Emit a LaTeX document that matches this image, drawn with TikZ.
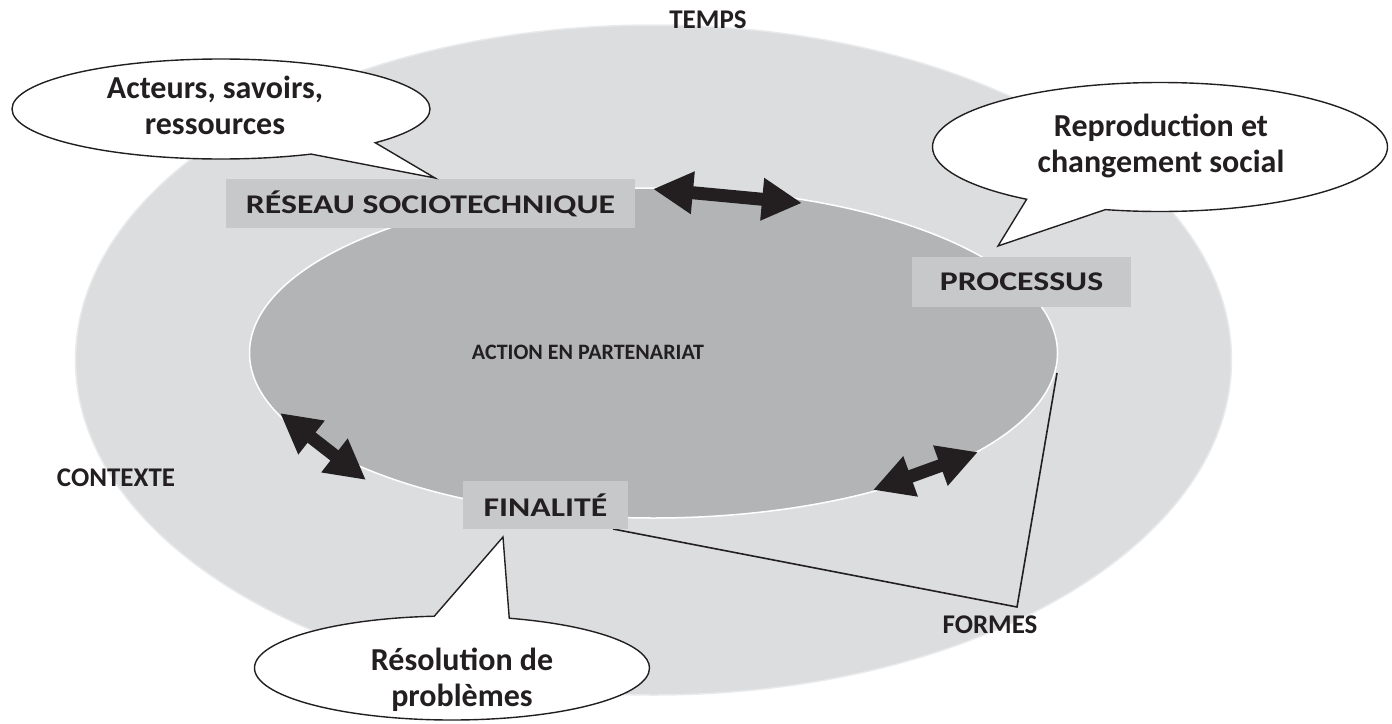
\documentclass[tikz,border=0pt]{standalone}
\usepackage{fontspec}
\setmainfont{Carlito}
\usetikzlibrary{shapes.geometric,shapes.callouts,arrows.meta,calc}
\definecolor{outerfill}{HTML}{DCDDDF}
\definecolor{outeredge}{HTML}{E9EAEB}
\definecolor{innerfill}{HTML}{B3B4B6}
\definecolor{boxfill}{HTML}{C7C8CA}
\definecolor{ink}{HTML}{231F20}

\begin{document}
\begin{tikzpicture}[x=1pt,y=-1pt,
  lbl/.style={font=\fontsize{27}{32}\selectfont\bfseries, text=ink, inner sep=0pt},
  tag/.style={fill=boxfill, inner sep=0pt, text=ink,
    font=\fontsize{27}{32}\selectfont\bfseries\addfontfeatures{FakeStretch=1.25}},
  bubble/.style={ellipse callout, draw=ink, line width=1.4pt, fill=white,
    inner sep=0pt, callout pointer arc=22},
  bubtext/.style={font=\fontsize{32}{36}\selectfont\bfseries, text=ink,
    align=center, inner sep=0pt},
  dbl/.style={draw=ink, line width=13pt,
    {Triangle[length=40pt,width=40pt]}-{Triangle[length=40pt,width=40pt]}},
  link/.style={draw=ink, line width=1.6pt},
]
\useasboundingbox (0,0) rectangle (1392,723);

% context ellipse and action ellipse
\coordinate (ctx) at (653.5,360);
\coordinate (act) at (653.5,353);
\filldraw[fill=outerfill, draw=outeredge, line width=1.5pt]
  (ctx) ellipse [x radius=578, y radius=335];
\filldraw[fill=innerfill, draw=white, line width=1.5pt]
  (act) ellipse [x radius=404, y radius=165];
\coordinate (actedge) at (1057,373);

\node[lbl, font=\fontsize{22}{26}\selectfont\bfseries] (action) at (588,352) {ACTION EN PARTENARIAT};

% outer labels
\node[lbl] (temps) at (708,20) {TEMPS};
\node[lbl] (contexte) at (116,478) {CONTEXTE};
\node[lbl] (formes) at (990,625) {FORMES};

% label boxes
\node[tag, minimum width=409pt, minimum height=49pt] (res) at (430.5,203.5) {RÉSEAU SOCIOTECHNIQUE};
\node[tag, minimum width=219pt, minimum height=50pt] (proc) at (1021.5,282) {PROCESSUS};
\coordinate (apex) at (1017,607);

% lines to FORMES (drawn under the FINALITE box)
\coordinate (fincenter) at (545.5,505);
\draw[link] ($(fincenter)+(67.5,24)$) -- (apex) -- (actedge);
\node[tag, minimum width=165pt, minimum height=48pt] (fin) at (fincenter) {FINALITÉ};

% double arrows
\coordinate (a1s) at (653,189);
\coordinate (a1e) at (802,203);
\coordinate (a2s) at (280,413);
\coordinate (a2e) at (366,480);
\coordinate (a3s) at (873,490);
\coordinate (a3e) at (978,452);
\draw[dbl] (a1s) -- (a1e);
\draw[dbl] (a2s) -- (a2e);
\draw[dbl] (a3s) -- (a3e);

% speech bubbles
\node[bubble, minimum width=418pt, minimum height=100pt,
  callout absolute pointer={(435,178)}] (bA) at (221,109) {};
\node[bubble, minimum width=455pt, minimum height=129pt,
  callout absolute pointer={(998,246)}] (bR) at (1160,147) {};
\node[bubble, minimum width=395pt, minimum height=104pt,
  callout absolute pointer={(503,537)}] (bP) at (452,668) {};

\node[bubtext] (tA) at (215,105) {Acteurs, savoirs,\\ressources};
\node[bubtext] (tR) at (1161,146) {Reproduction et\\changement social};
\node[bubtext] (tP) at (462,680) {Résolution de\\problèmes};
\end{tikzpicture}
\end{document}
